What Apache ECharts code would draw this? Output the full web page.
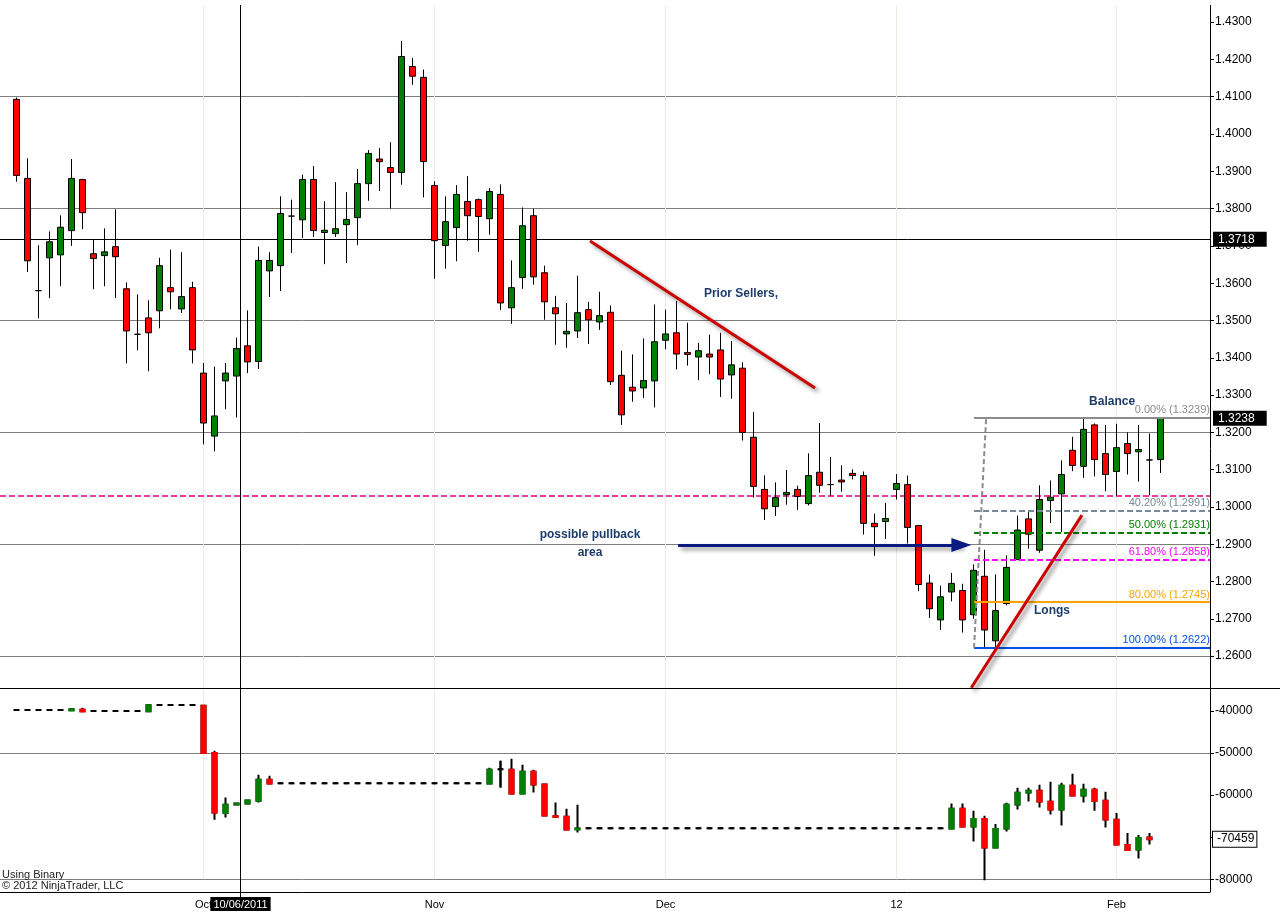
<!DOCTYPE html>
<html><head><meta charset="utf-8">
<script src="https://cdn.jsdelivr.net/npm/echarts@6/dist/echarts.min.js"></script>
<style>html,body{margin:0;padding:0;background:#fff}#c{width:1280px;height:919px}</style>
</head><body><div id="c"></div>
<script>
// ---------- DATA ----------
const dates = [
'09/08/2011','09/09/2011','09/12/2011','09/13/2011','09/14/2011','09/15/2011','09/16/2011','09/19/2011','09/20/2011','09/21/2011','09/22/2011','09/23/2011','09/26/2011','09/27/2011','09/28/2011','09/29/2011','09/30/2011',
'10/03/2011','10/04/2011','10/05/2011','10/06/2011','10/07/2011','10/10/2011','10/11/2011','10/12/2011','10/13/2011','10/14/2011','10/17/2011','10/18/2011','10/19/2011','10/20/2011','10/21/2011','10/24/2011','10/25/2011','10/26/2011','10/27/2011','10/28/2011','10/31/2011',
'11/01/2011','11/02/2011','11/03/2011','11/04/2011','11/07/2011','11/08/2011','11/09/2011','11/10/2011','11/11/2011','11/14/2011','11/15/2011','11/16/2011','11/17/2011','11/18/2011','11/21/2011','11/22/2011','11/23/2011','11/25/2011','11/28/2011','11/29/2011','11/30/2011',
'12/01/2011','12/02/2011','12/05/2011','12/06/2011','12/07/2011','12/08/2011','12/09/2011','12/12/2011','12/13/2011','12/14/2011','12/15/2011','12/16/2011','12/19/2011','12/20/2011','12/21/2011','12/22/2011','12/23/2011','12/27/2011','12/28/2011','12/29/2011','12/30/2011',
'01/03/2012','01/04/2012','01/05/2012','01/06/2012','01/09/2012','01/10/2012','01/11/2012','01/12/2012','01/13/2012','01/17/2012','01/18/2012','01/19/2012','01/20/2012','01/23/2012','01/24/2012','01/25/2012','01/26/2012','01/27/2012','01/30/2012','01/31/2012',
'02/01/2012','02/02/2012','02/03/2012','02/06/2012','02/07/2012'
];
const priceOpen = [
1.4093,1.3881,1.3580,1.3668,1.3676,1.3741,1.3878,1.3679,1.3674,1.3698,1.3585,1.3463,1.3507,1.3526,1.3588,1.3531,1.3588,
1.3359,1.3190,1.3338,1.3351,1.3432,1.3390,1.3633,1.3647,1.3780,1.3770,1.3878,1.3736,1.3733,1.3757,1.3776,1.3867,1.3933,1.3910,1.3897,1.4181,1.4152,
1.3862,1.3701,1.3749,1.3819,1.3824,1.3773,1.3838,1.3534,1.3615,1.3781,1.3628,1.3534,1.3464,1.3472,1.3529,1.3496,1.3522,1.3353,1.3321,1.3319,1.3338,
1.3447,1.3467,1.3414,1.3402,1.3410,1.3421,1.3354,1.3372,1.3187,1.3047,1.3001,1.3033,1.3047,1.3009,1.3093,1.3060,1.3072,1.3090,1.3084,1.2956,1.2961,
1.3047,1.3060,1.2950,1.2796,1.2697,1.2772,1.2776,1.2711,1.2814,1.2641,1.2741,1.2859,1.2968,1.2884,1.3017,1.3035,1.3152,1.3109,1.3220,1.3143,
1.3095,1.3170,1.3148,1.3126,1.3127
];
const priceHigh = [
1.4098,1.3935,1.3702,1.3739,1.3782,1.3933,1.3880,1.3716,1.3747,1.3798,1.3602,1.3570,1.3554,1.3668,1.3690,1.3683,1.3604,
1.3386,1.3376,1.3386,1.3454,1.3527,1.3698,1.3683,1.3833,1.3824,1.3891,1.3914,1.3820,1.3871,1.3844,1.3906,1.3957,1.3962,1.3978,1.4250,1.4204,1.4173,
1.3873,1.3833,1.3863,1.3887,1.3827,1.3855,1.3865,1.3661,1.3803,1.3800,1.3647,1.3566,1.3547,1.3620,1.3550,1.3577,1.3540,1.3419,1.3409,1.3452,1.3543,
1.3529,1.3552,1.3494,1.3440,1.3462,1.3467,1.3445,1.3388,1.3255,1.3085,1.3066,1.3099,1.3057,1.3144,1.3225,1.3134,1.3112,1.3101,1.3095,1.2982,1.3011,
1.3088,1.3084,1.2952,1.2819,1.2789,1.2823,1.2794,1.2846,1.2885,1.2819,1.2870,1.2977,1.2990,1.3058,1.3071,1.3125,1.3188,1.3238,1.3224,1.3220,
1.3223,1.3200,1.3220,1.3197,1.3239
];
const priceLow = [
1.3872,1.3630,1.3506,1.3560,1.3592,1.3700,1.3745,1.3584,1.3592,1.3560,1.3385,1.3420,1.3364,1.3479,1.3530,1.3520,1.3385,
1.3168,1.3149,1.3262,1.3240,1.3359,1.3370,1.3563,1.3579,1.3681,1.3721,1.3724,1.3651,1.3724,1.3654,1.3702,1.3821,1.3847,1.3800,1.3864,1.4132,1.3830,
1.3612,1.3639,1.3659,1.3714,1.3684,1.3730,1.3528,1.3491,1.3585,1.3596,1.3502,1.3435,1.3427,1.3453,1.3437,1.3475,1.3327,1.3220,1.3282,1.3292,1.3267,
1.3423,1.3369,1.3379,1.3340,1.3356,1.3295,1.3290,1.3178,1.3025,1.2965,1.2976,1.3006,1.2992,1.3004,1.3038,1.3030,1.3041,1.3074,1.2926,1.2869,1.2914,
1.3020,1.2902,1.2774,1.2702,1.2670,1.2747,1.2663,1.2700,1.2622,1.2625,1.2736,1.2857,1.2888,1.2877,1.2957,1.2933,1.3096,1.3078,1.3082,1.3042,
1.3030,1.3087,1.3068,1.3031,1.3091
];
const priceClose = [
1.3889,1.3660,1.3580,1.3711,1.3750,1.3881,1.3789,1.3666,1.3684,1.3671,1.3472,1.3463,1.3467,1.3647,1.3577,1.3564,1.3421,
1.3225,1.3244,1.3359,1.3425,1.3389,1.3661,1.3661,1.3787,1.3780,1.3878,1.3741,1.3742,1.3746,1.3771,1.3867,1.3948,1.3926,1.3897,1.4208,1.4155,1.3926,
1.3714,1.3765,1.3838,1.3781,1.3779,1.3846,1.3547,1.3588,1.3754,1.3617,1.3550,1.3518,1.3471,1.3521,1.3502,1.3513,1.3336,1.3247,1.3311,1.3339,1.3443,
1.3464,1.3410,1.3409,1.3419,1.3402,1.3343,1.3381,1.3200,1.3055,1.2995,1.3025,1.3039,1.3028,1.3084,1.3058,1.3060,1.3067,1.3084,1.2956,1.2947,1.2969,
1.3063,1.2945,1.2792,1.2727,1.2759,1.2795,1.2697,1.2830,1.2670,1.2722,1.2838,1.2938,1.2927,1.3020,1.3026,1.3087,1.3111,1.3208,1.3127,1.3087,
1.3159,1.3143,1.3154,1.3126,1.3238
];
// lower panel (null = no bar)
const flowOpen = [
-39760,-39760,-39760,-39760,-39760,-39840,-39680,-40000,-40000,-40000,-40000,-40000,-40080,-38570,-38570,-38570,-38570,
-38730,-50000,-64210,-62200,-61980,-61350,-56350,-57150,-57150,-57150,-57150,-57150,-57150,-57150,-57150,-57150,-57150,-57150,-57150,-57150,-57150,
-57150,-57150,-57150,-57150,-57150,-57220,-53810,-53970,-59600,-54440,-57460,-65000,-65160,-68100,-67860,-67860,-67860,-67860,-67860,-67860,-67860,
-67860,-67860,-67860,-67860,-67860,-67860,-67860,-67860,-67860,-67860,-67860,-67860,-67860,-67860,-67860,-67860,-67860,-67860,-67860,-67860,-67860,
-67860,-67860,-67860,-67860,-67860,-67940,-63250,-67460,-65640,-72460,-67940,-62220,-59370,-58970,-61590,-63410,-57780,-60080,-58730,-61350,
-65870,-71830,-72940,-70080,null
];
const flowHigh = [
-39760,-39760,-39760,-39760,-39760,-39440,-39210,-40000,-40000,-40000,-40000,-40000,-38490,-38570,-38570,-38570,-38570,
-38650,-49440,-60560,-61750,-61030,-55160,-55400,-57150,-57150,-57150,-57150,-57150,-57150,-57150,-57150,-57150,-57150,-57150,-57150,-57150,-57150,
-57150,-57150,-57150,-57150,-57150,-53490,-51830,-51350,-52780,-53970,-57220,-61750,-63250,-62300,-67860,-67860,-67860,-67860,-67860,-67860,-67860,
-67860,-67860,-67860,-67860,-67860,-67860,-67860,-67860,-67860,-67860,-67860,-67860,-67860,-67860,-67860,-67860,-67860,-67860,-67860,-67860,-67860,
-67860,-67860,-67860,-67860,-67860,-61980,-61980,-63730,-64920,-66830,-61830,-58250,-58250,-57540,-56830,-57060,-54920,-57300,-58250,-59210,
-64210,-68970,-69440,-68970,null
];
const flowLow = [
-39760,-39760,-39760,-39760,-39760,-39840,-40080,-40000,-40000,-40000,-40000,-40000,-40080,-38570,-38570,-38570,-38570,
-50000,-65870,-65320,-62200,-61980,-61750,-57220,-57150,-57150,-57150,-57150,-57150,-57150,-57150,-57150,-57150,-57150,-57150,-57150,-57150,-57150,
-57150,-57150,-57150,-57150,-57150,-57220,-58180,-59600,-59600,-59370,-64840,-65320,-68180,-68890,-67860,-67860,-67860,-67860,-67860,-67860,-67860,
-67860,-67860,-67860,-67860,-67860,-67860,-67860,-67860,-67860,-67860,-67860,-67860,-67860,-67860,-67860,-67860,-67860,-67860,-67860,-67860,-67860,
-67860,-67860,-67860,-67860,-67860,-67940,-67460,-71030,-80240,-72700,-68650,-63410,-61510,-62940,-64600,-67220,-60080,-61750,-63730,-67700,
-71750,-73020,-75080,-71750,null
];
const flowClose = [
-39760,-39760,-39760,-39760,-39760,-39600,-40080,-40000,-40000,-40000,-40000,-40000,-38650,-38570,-38570,-38570,-38570,
-50000,-64130,-62300,-62000,-61270,-56350,-57220,-57150,-57150,-57150,-57150,-57150,-57150,-57150,-57150,-57150,-57150,-57150,-57150,-57150,-57150,
-57150,-57150,-57150,-57150,-57150,-53970,-53810,-59600,-54440,-57460,-64840,-65160,-68180,-67950,-67860,-67860,-67860,-67860,-67860,-67860,-67860,
-67860,-67860,-67860,-67860,-67860,-67860,-67860,-67860,-67860,-67860,-67860,-67860,-67860,-67860,-67860,-67860,-67860,-67860,-67860,-67860,-67860,
-67860,-67860,-67860,-67860,-67860,-63250,-67460,-65640,-72460,-68020,-62300,-59440,-58970,-61510,-63410,-57780,-60080,-58730,-61350,-65790,
-71750,-73020,-70160,-70459,null
];
const monthStarts = ['10/03/2011','11/01/2011','12/01/2011','01/03/2012','02/01/2012'];
const monthLabels = ['Oct','Nov','Dec','12','Feb'];
const monthBars = [17, 38, 59, 80, 100];
const priceGridLevels = [1.26, 1.29, 1.32, 1.35, 1.38, 1.41];
const flowGridLevels = [-50000, -80000];
const refLevel = 1.3718;
const pinkLevel = 1.3030;
const lastPrice = 1.3238;
const lastFlow = -70459;
const fibPct = [0, 40.2, 50, 61.8, 80, 100];
const fibPrice = [1.3239, 1.2991, 1.2931, 1.2858, 1.2745, 1.2622];
const fibStartBar = 87.05;
const fibConnector = [[87.05, 1.2622], [88.15, 1.3239]];
const sellersLine = [[52.14, 1.3713], [72.59, 1.3319]];
const longsLine = [[86.8, 1.2515], [96.86, 1.2978]];
const pullbackArrow = [[60.14, 1.2898], [85.9, 1.2898]];
const noteTexts = ['Prior Sellers,', 'possible pullback', 'area', 'Longs', 'Balance'];
const noteAt = [[65.86, 1.3571], [52.14, 1.2925], [52.14, 1.2876], [94.14, 1.2721], [99.6, 1.3281]];
const crossBar = 20.32, crossIdx = 20;

// ---------- BUILD ----------
const FONT = "'Liberation Sans', Arial, sans-serif";
const PAD_L = 1, PAD_R = 4;
const cats = [' '].concat(dates, ['  ', '   ', '    ', '     ']);
const xMin = -PAD_L - 0.5, xMax = dates.length - 1 + PAD_R + 0.5;
const E = () => ['-', '-', '-', '-'];
const padR = () => [E(), E(), E(), E()];
const priceData = [E()].concat(dates.map((d, i) => [priceOpen[i], priceClose[i], priceLow[i], priceHigh[i]]), padR());
const flowData = [E()].concat(dates.map((d, i) => flowOpen[i] == null ? E() : [flowOpen[i], flowClose[i], flowLow[i], flowHigh[i]]), padR());
const flowBody = [E()].concat(dates.map((d, i) => (flowOpen[i] == null || flowOpen[i] === flowClose[i]) ? E() :
  [flowOpen[i], flowClose[i], Math.min(flowOpen[i], flowClose[i]), Math.max(flowOpen[i], flowClose[i])]), padR());
const flowDoji = [E()].concat(dates.map((d, i) => (flowOpen[i] != null && flowOpen[i] === flowClose[i]) ?
  [flowOpen[i], flowClose[i], flowLow[i], flowHigh[i]] : E()), padR());
const isMonth = (idx, val) => monthStarts.indexOf(val) >= 0;
const fibColors = ['#8c8c8c', '#778899', '#008000', '#ff00ff', '#ffa500', '#0050e6'];
const fibTypes = ['solid', [6, 3], [6, 3], [6, 3], 'solid', 'solid'];
const shadow = { shadowBlur: 4, shadowColor: 'rgba(0,0,0,0.45)', shadowOffsetX: 3, shadowOffsetY: 3 };

const chart = echarts.init(document.getElementById('c'), null, { renderer: 'canvas', width: 1280, height: 919 });
const yAxisCommon = {
  type: 'value', position: 'right',
  axisLine: { show: false, onZero: false },
  axisTick: { show: true, length: 4, lineStyle: { color: '#000' } },
  splitLine: { show: false }
};
const option = {
  animation: false,
  backgroundColor: '#fff',
  grid: [
    { left: 0, right: 70, top: 5, height: 688.4 },
    { left: 0, right: 70, top: 690, height: 189.3 }
  ],
  xAxis: [
    { type: 'category', gridIndex: 0, data: cats, boundaryGap: true, show: false, axisLine: { onZero: false } },
    { type: 'category', gridIndex: 1, data: cats, boundaryGap: true, offset: 13,
      axisLine: { onZero: false, lineStyle: { color: '#000', width: 1 } },
      axisTick: { interval: isMonth, alignWithLabel: true, length: 5, lineStyle: { color: '#000' } },
      axisLabel: { interval: isMonth, formatter: v => { const k = monthStarts.indexOf(v); return k >= 0 ? monthLabels[k] : ''; },
        color: '#000', fontSize: 11, fontFamily: FONT, margin: 7 },
      splitLine: { show: false } },
    { type: 'value', gridIndex: 0, min: xMin, max: xMax, show: false, axisLine: { onZero: false } },
    { type: 'value', gridIndex: 1, min: xMin, max: xMax, show: false, axisLine: { onZero: false } }
  ],
  yAxis: [
    Object.assign({}, yAxisCommon, { gridIndex: 0, min: 1.25, max: 1.4346, interval: 0.01,
      axisLabel: { formatter: v => v.toFixed(4), color: '#000', fontSize: 12, fontFamily: FONT, margin: 5, showMinLabel: false, showMaxLabel: false } }),
    Object.assign({}, yAxisCommon, { gridIndex: 1, min: -80000, max: -35000, interval: 10000,
      axisLabel: { formatter: v => String(Math.round(v)), color: '#000', fontSize: 12, fontFamily: FONT, margin: 5, showMaxLabel: false } })
  ],
  series: [
    { name: 'priceGrid', type: 'line', xAxisIndex: 2, yAxisIndex: 0, data: [], z: 1, silent: true,
      markLine: { z: 1, silent: true, precision: 4, symbol: ['none', 'none'], label: { show: false },
        data: [].concat(
          priceGridLevels.map(v => ({ yAxis: v, lineStyle: { color: '#7d7d7d', width: 1, type: 'solid' } })),
          monthBars.map(b => ({ xAxis: b, lineStyle: { color: '#f3e9df', width: 1, type: 'solid' } })),
          [{ yAxis: pinkLevel, lineStyle: { color: '#e6409b', width: 2, type: [6, 3] } }],
          [{ yAxis: refLevel, lineStyle: { color: '#000', width: 1, type: 'solid' },
             label: { show: true, position: 'end', distance: 3, formatter: refLevel.toFixed(4), color: '#fff', backgroundColor: '#000',
               padding: [2, 12, 1, 5], fontSize: 12, fontFamily: FONT } }]
        ) } },
    { name: 'price', type: 'candlestick', xAxisIndex: 0, yAxisIndex: 0, data: priceData, z: 3, barWidth: 6,
      itemStyle: { color: '#008000', color0: '#ff0000', borderColor: '#000', borderColor0: '#000', borderColorDoji: '#000', borderWidth: 1 } },
    { name: 'annot', type: 'line', xAxisIndex: 2, yAxisIndex: 0, data: [], z: 5, silent: true,
      markLine: { z: 5, silent: true, precision: 4, symbol: ['none', 'none'], label: { show: false },
        data: [].concat(
          fibPrice.map((p, i) => [
            { coord: [fibStartBar, p], lineStyle: { color: fibColors[i], width: 2, type: fibTypes[i] },
              label: { show: true, position: 'insideEndTop', distance: [0, 2], formatter: fibPct[i].toFixed(2) + '% (' + p.toFixed(4) + ')',
                color: fibColors[i], fontSize: 11, fontFamily: FONT } },
            { coord: [xMax, p] }
          ]),
          [[{ coord: fibConnector[0], lineStyle: { color: '#8c8c8c', width: 2, type: [5, 3] } }, { coord: fibConnector[1] }]],
          [[{ coord: sellersLine[0], lineStyle: Object.assign({ color: '#cc0000', width: 3, type: 'solid' }, shadow) }, { coord: sellersLine[1] }]],
          [[{ coord: longsLine[0], lineStyle: Object.assign({ color: '#cc0000', width: 3, type: 'solid' }, shadow) }, { coord: longsLine[1] }]],
          [[{ coord: pullbackArrow[0], symbol: 'none', lineStyle: Object.assign({ color: '#0a1a80', width: 3, type: 'solid' }, shadow) },
            { coord: pullbackArrow[1], symbol: 'triangle', symbolSize: [14, 20], itemStyle: { color: '#0a1a80' } }]],
          [{ yAxis: lastPrice, lineStyle: { color: 'rgba(0,0,0,0)', width: 0 },
             label: { show: true, position: 'end', distance: 3, formatter: lastPrice.toFixed(4), color: '#fff', backgroundColor: '#000',
               padding: [2, 12, 1, 5], fontSize: 12, fontFamily: FONT } }]
        ) },
      markPoint: { silent: true, symbol: 'circle', symbolSize: 1, itemStyle: { color: 'rgba(0,0,0,0)' },
        label: { show: true, position: 'inside', formatter: p => p.name, color: '#1d3c6a', fontSize: 12, fontWeight: 'bold', fontFamily: FONT },
        data: noteTexts.map((t, i) => ({ name: t, coord: noteAt[i] })) } },
    { name: 'flowGrid', type: 'line', xAxisIndex: 3, yAxisIndex: 1, data: [], z: 1, silent: true,
      markLine: { z: 1, silent: true, precision: 0, symbol: ['none', 'none'], label: { show: false },
        data: [].concat(
          flowGridLevels.map(v => ({ yAxis: v, lineStyle: { color: '#7d7d7d', width: 1, type: 'solid' } })),
          monthBars.map(b => ({ xAxis: b, lineStyle: { color: '#f3e9df', width: 1, type: 'solid' } }))
        ) } },
    { name: 'flow', type: 'candlestick', xAxisIndex: 1, yAxisIndex: 1, data: flowData, z: 3, barWidth: 5,
      itemStyle: { color: '#008000', color0: '#ff0000', borderColor: '#000', borderColor0: '#000', borderColorDoji: '#000', borderWidth: 2 } },
    { name: 'flowBody', type: 'candlestick', xAxisIndex: 1, yAxisIndex: 1, data: flowBody, z: 4, barWidth: 5,
      itemStyle: { color: '#008000', color0: '#ff0000', borderColor: '#008000', borderColor0: '#ff0000', borderWidth: 2 } },
    { name: 'flowDoji', type: 'candlestick', xAxisIndex: 1, yAxisIndex: 1, data: flowDoji, z: 4, barWidth: 7,
      itemStyle: { color: '#000', color0: '#000', borderColor: '#000', borderColor0: '#000', borderColorDoji: '#000', borderWidth: 2 } },
    { name: 'flowAnnot', type: 'line', xAxisIndex: 3, yAxisIndex: 1, data: [], z: 5, silent: true,
      markLine: { z: 5, silent: true, precision: 0, symbol: ['none', 'none'],
        data: [{ yAxis: lastFlow, lineStyle: { color: 'rgba(0,0,0,0)', width: 0 },
          label: { show: true, position: 'end', distance: 3, formatter: String(lastFlow), color: '#000', backgroundColor: '#fff',
            borderColor: '#000', borderWidth: 1, padding: [2, 2, 1, 4], fontSize: 12, fontFamily: FONT } }] } }
  ]
};
chart.setOption(option);
const cx = Math.round(chart.convertToPixel({ xAxisIndex: 2 }, crossBar)) + 0.5;
chart.setOption({
  graphic: [
    { type: 'line', silent: true, z: 100, shape: { x1: 1210.5, y1: 5, x2: 1210.5, y2: 892 }, style: { stroke: '#000', lineWidth: 1 } },
    { type: 'line', silent: true, z: 100, shape: { x1: 0, y1: 688.5, x2: 1280, y2: 688.5 }, style: { stroke: '#000', lineWidth: 1 } },
    { type: 'line', silent: true, z: 100, shape: { x1: cx, y1: 5, x2: cx, y2: 897 }, style: { stroke: '#000', lineWidth: 1 } },
    { type: 'text', silent: true, z: 101, x: cx, y: 897, style: { text: dates[crossIdx], fill: '#fff', backgroundColor: '#000', padding: [2, 3, 1, 3],
      font: "11px 'Liberation Sans', Arial, sans-serif", align: 'center', verticalAlign: 'top' } },
    { type: 'text', silent: true, z: 101, x: 2, y: 869, style: { text: 'Using Binary', fill: '#222', font: "11px 'Liberation Sans', Arial, sans-serif" } },
    { type: 'text', silent: true, z: 101, x: 2, y: 880, style: { text: '\u00a9 2012 NinjaTrader, LLC', fill: '#222', font: "11px 'Liberation Sans', Arial, sans-serif" } }
  ]
});
</script>
</body></html>
